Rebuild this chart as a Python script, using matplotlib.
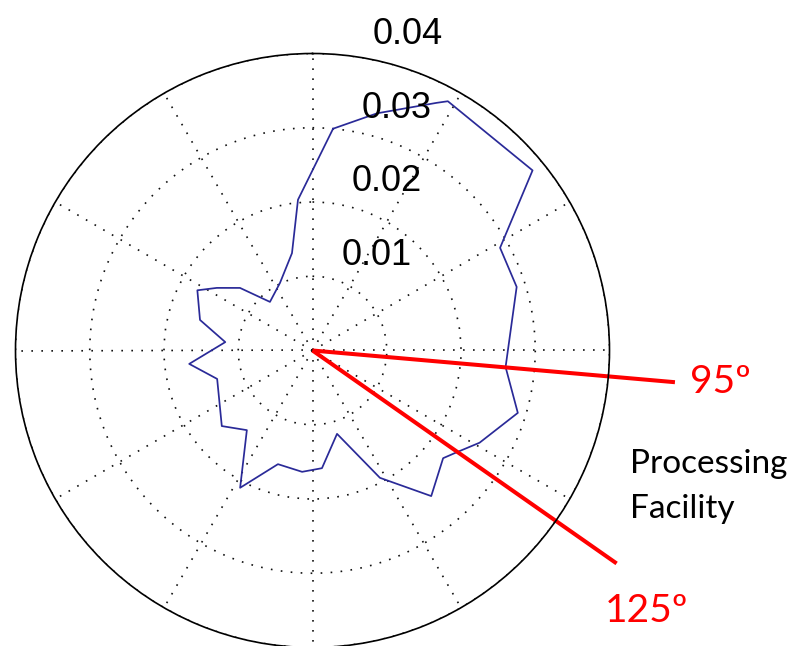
import numpy as np
import matplotlib.pyplot as plt

# blue trace: compass bearing (deg, clockwise from north) and value
bearing = [5.3, 15.2, 26.6, 28.5, 50.7, 61.3, 72.7, 94.9, 106.9, 118.9, 125.1,
           129.5, 140.8, 152.1, 163.6, 175.4, 184.9, 196.9, 207.8, 219.5, 230.2,
           253.4, 263.8, 275.5, 285.2, 297.6, 303.2, 310.8, 318.8, 334.3, 348.1,
           354.5]
value = [0.0300, 0.0331, 0.0373, 0.0382, 0.0383, 0.0288, 0.0288, 0.0261, 0.0289,
         0.0257, 0.0238, 0.0228, 0.0253, 0.0194, 0.0117, 0.0159, 0.0164, 0.0160,
         0.0209, 0.0139, 0.0159, 0.0134, 0.0167, 0.0118, 0.0157, 0.0175, 0.0154,
         0.0129, 0.0087, 0.0101, 0.0134, 0.0204]

rings = [0.01, 0.02, 0.03, 0.04]
ring_labels = ['0.01', '0.02', '0.03', '0.04']

# red sector lines
sector_deg = [95, 125]
sector_len = [0.049, 0.050]
sector_labels = ['95º', '125º']

W, H = 795, 646
fig = plt.figure(figsize=(W / 100, H / 100), dpi=100)
cx, cy, R = 312.5, 350.5, 297
ax = fig.add_axes([(cx - R) / W, (H - cy - R) / H, 2 * R / W, 2 * R / H],
                  projection='polar')
ax.set_theta_zero_location('N')
ax.set_theta_direction(-1)

th = np.deg2rad(bearing + bearing[:1])
ax.plot(th, value + value[:1], color='#2a2a98', lw=1.25)

ax.set_ylim(0, 0.04)
ax.set_rgrids(rings, labels=[''] * len(rings))
ax.set_thetagrids(range(0, 360, 30), labels=[])
ax.grid(True, color='#111111', linestyle=(0, (1, 5)), lw=1.2)
ax.spines['polar'].set_color('black')
ax.spines['polar'].set_linewidth(1.2)

for r, lab in zip(rings, ring_labels):
    ax.annotate(lab, xy=(np.deg2rad(8), r + 0.0005), xytext=(13, 6),
                textcoords='offset points', ha='left', va='baseline',
                fontsize=26, family='Liberation Sans', annotation_clip=False)

for d, L in zip(sector_deg, sector_len):
    ax.plot([0, np.deg2rad(d)], [0, L], color='#ff0000', lw=2.9, clip_on=False,
            solid_capstyle='butt')

fig.text(690 / W, 1 - 393 / H, sector_labels[0], color='#ff0000', fontsize=28,
         family='Lato', va='baseline', ha='left')
fig.text(605 / W, 1 - 622 / H, sector_labels[1], color='#ff0000', fontsize=28,
         family='Lato', va='baseline', ha='left')
fig.text(630 / W, 1 - 473 / H, 'Processing', color='black', fontsize=24,
         family='Lato', va='baseline', ha='left')
fig.text(630 / W, 1 - 518 / H, 'Facility', color='black', fontsize=24,
         family='Lato', va='baseline', ha='left')

fig.savefig('out.png', dpi=100)
